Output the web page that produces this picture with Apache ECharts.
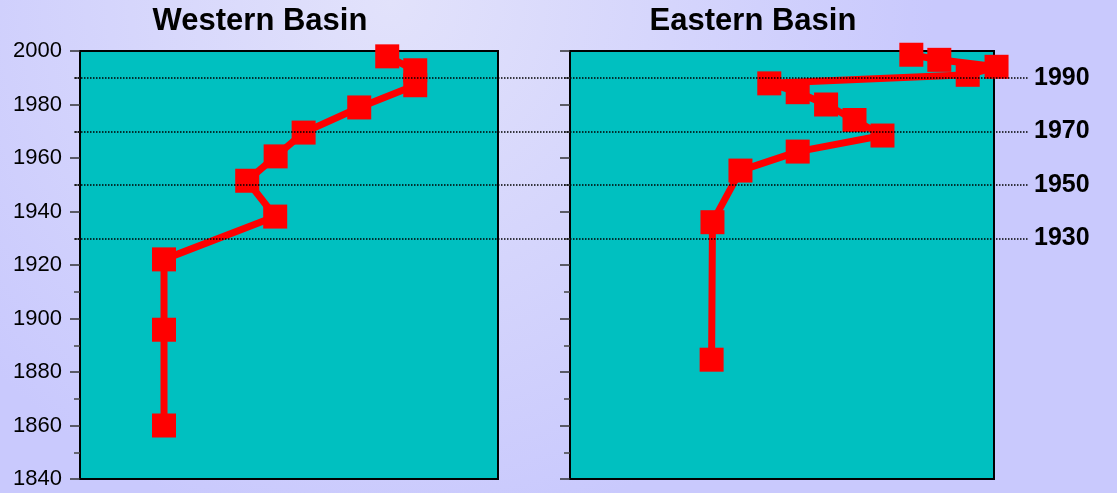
<!DOCTYPE html>
<html>
<head>
<meta charset="utf-8">
<script src="https://cdn.jsdelivr.net/npm/echarts@6/dist/echarts.min.js"></script>
<style>
html,body{margin:0;padding:0;}
#chart{width:1117px;height:493px;}
</style>
</head>
<body>
<div id="chart"></div>
<script>
// ---- data ----
const titles = ['Western Basin', 'Eastern Basin'];
const westYears  = [1860.0, 1895.8, 1922.1, 1938.1, 1951.5, 1960.6, 1969.5, 1978.9, 1987.2, 1992.8, 1998.0];
const westValues = [20.1, 20.1, 20.1, 46.7, 40.0, 46.8, 53.5, 66.8, 80.2, 80.2, 73.5];
const eastYears  = [1884.6, 1936.0, 1955.3, 1962.4, 1968.4, 1974.2, 1980.0, 1984.6, 1987.9, 1991.1, 1994.1, 1996.7, 1998.6];
const eastValues = [33.4, 33.6, 40.2, 53.7, 73.7, 67.1, 60.4, 53.7, 47.0, 93.8, 100.6, 87.1, 80.5];
const refYears = [1990, 1970, 1950, 1930];
const yMin = 1840, yMax = 2000, yStep = 20;

const FONT = "'Liberation Sans', Arial, sans-serif";
const pairs = (xs, ys) => xs.map((x, i) => [x, ys[i]]);

const chart = echarts.init(document.getElementById('chart'), null, {renderer: 'canvas'});

const yAxisBase = (gi, showLabel) => ({
  type: 'value', gridIndex: gi, min: yMin, max: yMax, interval: yStep,
  axisLine: {show: true, onZero: false, lineStyle: {color: '#000', width: 2}},
  axisTick: {show: true, length: 10, lineStyle: {color: '#333', width: 1.5}},
  minorTick: {show: true, splitNumber: 2, length: 6, lineStyle: {color: '#444', width: 1.5}},
  splitLine: {show: false},
  axisLabel: {show: showLabel, color: '#000', fontSize: 22, fontFamily: FONT, margin: 18,
              formatter: v => String(v)}
});

const option = {
  backgroundColor: new echarts.graphic.RadialGradient(0.35, 0, 1.1, [
    {offset: 0, color: '#e2e2fb'},
    {offset: 1, color: '#c9c9fd'}
  ]),
  animation: false,
  graphic: [
    {type: 'text', x: 260, y: 21, style: {text: titles[0], font: 'bold 31px ' + FONT, fill: '#000', textAlign: 'center', textVerticalAlign: 'middle'}},
    {type: 'text', x: 753, y: 21, style: {text: titles[1], font: 'bold 31px ' + FONT, fill: '#000', textAlign: 'center', textVerticalAlign: 'middle'}}
  ],
  grid: [
    {left: 80, top: 51, width: 418, height: 428, show: true, backgroundColor: '#00c0c0', borderColor: '#000', borderWidth: 2},
    {left: 570, top: 51, width: 424, height: 428, show: true, backgroundColor: '#00c0c0', borderColor: '#000', borderWidth: 2},
    {left: 75, top: 51, width: 954, height: 428, show: false}
  ],
  xAxis: [
    {type: 'value', gridIndex: 0, min: 0, max: 100, show: false},
    {type: 'value', gridIndex: 1, min: 0, max: 100, show: false},
    {type: 'value', gridIndex: 2, min: 0, max: 100, show: false}
  ],
  yAxis: [
    yAxisBase(0, true),
    yAxisBase(1, false),
    {type: 'value', gridIndex: 2, min: yMin, max: yMax, show: false}
  ],
  series: [
    {
      type: 'line', xAxisIndex: 2, yAxisIndex: 2, data: [], z: 1, silent: true,
      markLine: {
        silent: true, symbol: 'none', animation: false,
        lineStyle: {color: '#000', width: 1.5, type: [1.5, 1.5]},
        label: {show: true, position: 'end', distance: 5, formatter: p => String(p.value),
                color: '#000', fontSize: 25, fontWeight: 'bold', fontFamily: FONT, padding: [0, 0, 6, 0]},
        data: refYears.map(y => ({yAxis: y}))
      }
    },
    {
      type: 'line', xAxisIndex: 0, yAxisIndex: 0, z: 3, clip: false,
      data: pairs(westValues, westYears),
      symbol: 'rect', symbolSize: 24, showAllSymbol: true,
      lineStyle: {color: '#ff0000', width: 7},
      itemStyle: {color: '#ff0000'}
    },
    {
      type: 'line', xAxisIndex: 1, yAxisIndex: 1, z: 3, clip: false,
      data: pairs(eastValues, eastYears),
      symbol: 'rect', symbolSize: 24, showAllSymbol: true,
      lineStyle: {color: '#ff0000', width: 7},
      itemStyle: {color: '#ff0000'}
    }
  ]
};
chart.setOption(option);
</script>
</body>
</html>
